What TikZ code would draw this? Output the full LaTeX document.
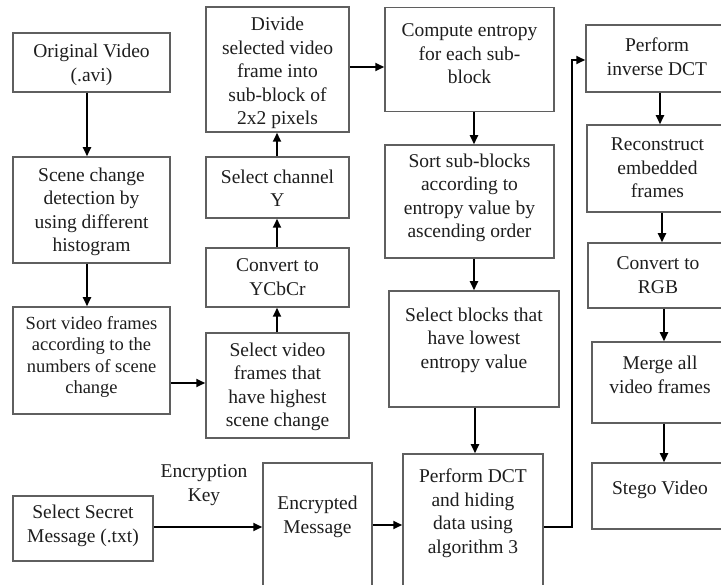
\documentclass[tikz,border=0pt]{standalone}
\usepackage{fontspec}
\setmainfont{Liberation Serif}
\usetikzlibrary{arrows.meta}
\definecolor{boxgray}{RGB}{95,95,95}
\definecolor{textgray}{RGB}{30,30,30}
\begin{document}
\begin{tikzpicture}[x=1pt,y=-1pt,
  box/.style={draw=boxgray, line width=1.5pt, rectangle, inner sep=0pt},
  txt/.style={align=center, font=\fontsize{19.5}{23.5}\selectfont, text=textgray, inner sep=0pt},
  smalltxt/.style={txt, font=\fontsize{18.5}{21.5}\selectfont},
  arr/.style={line width=1.8pt, black, -{Triangle[length=9pt,width=8pt]}}]
\useasboundingbox (0,0) rectangle (721,585);
\clip (0,0) rectangle (721,585);
\fill[white] (0,0) rectangle (721,585);

% boxes
\node[box, minimum width=157pt, minimum height=59pt] (orig) at (91.5,62.5) {};
\node[box, minimum width=157pt, minimum height=106pt] (scene) at (91.5,210) {};
\node[box, minimum width=157pt, minimum height=107pt] (sortvf) at (91.5,360.5) {};
\node[box, minimum width=143pt, minimum height=105pt] (selvf) at (277.5,385.5) {};
\node[box, minimum width=143pt, minimum height=59pt] (conv) at (277.5,277.5) {};
\node[box, minimum width=143pt, minimum height=61pt] (chan) at (277.5,187.5) {};
\node[box, minimum width=143pt, minimum height=125pt] (divide) at (277.5,69.5) {};
\node[box, minimum width=169pt, minimum height=104pt] (compute) at (469.5,59.5) {};
\node[box, minimum width=169pt, minimum height=113pt] (sortsb) at (469.5,201.5) {};
\node[box, minimum width=170pt, minimum height=116pt] (selblk) at (474,349) {};
\node[box, minimum width=140pt, minimum height=146pt] (dct) at (473,527) {};
\node[box, minimum width=109pt, minimum height=137pt] (enc) at (317.5,531.5) {};
\node[box, minimum width=140pt, minimum height=65pt] (secret) at (83,528.5) {};
\node[box, minimum width=142pt, minimum height=67pt] (inv) at (657,58.5) {};
\node[box, minimum width=141pt, minimum height=87pt] (recon) at (657.5,168.5) {};
\node[box, minimum width=140pt, minimum height=65pt] (rgb) at (658,275.5) {};
\node[box, minimum width=136pt, minimum height=81pt] (merge) at (660,382.5) {};
\node[box, minimum width=136pt, minimum height=66pt] (stego) at (660,496) {};

% texts
\node[txt] (t-orig) at (91.5,65) {Original Video\\(.avi)};
\node[txt] (t-scene) at (91.5,212) {Scene change\\detection by\\using different\\histogram};
\node[smalltxt] (t-sortvf) at (91.5,357) {Sort video frames\\according to the\\numbers of scene\\change};
\node[txt] (t-selvf) at (277.5,387) {Select video\\frames that\\have highest\\scene change};
\node[txt] (t-conv) at (277.5,277) {Convert to\\YCbCr};
\node[txt] (t-chan) at (277.5,188) {Select channel\\Y};
\node[txt] (t-divide) at (277.5,73) {Divide\\selected video\\frame into\\sub-block of\\2x2 pixels};
\node[txt] (t-compute) at (469.5,54) {Compute entropy\\for each sub-\\block};
\node[txt] (t-sortsb) at (469.5,198) {Sort sub-blocks\\according to\\entropy value by\\ascending order};
\node[txt] (t-selblk) at (474,340) {Select blocks that\\have lowest\\entropy value};
\node[txt] (t-dct) at (473,513) {Perform DCT\\and hiding\\data using\\algorithm 3};
\node[txt] (t-enc) at (317.5,517) {Encrypted\\Message};
\node[txt] (t-secret) at (83,526) {Select Secret\\Message (.txt)};
\node[txt] (t-key) at (204,485) {Encryption\\Key};
\node[txt] (t-inv) at (657,56.5) {Perform\\inverse DCT};
\node[txt] (t-recon) at (657.5,168) {Reconstruct\\embedded\\frames};
\node[txt] (t-rgb) at (658,275) {Convert to\\RGB};
\node[txt] (t-merge) at (660,375) {Merge all\\video frames};
\node[txt] (t-stego) at (660,490) {Stego Video};

% connectors
\draw[arr] (orig.south -| 87,0) -- (scene.north -| 87,0);
\draw[arr] (scene.south -| 87,0) -- (sortvf.north -| 87,0);
\draw[arr] (sortvf.east |- 0,383) -- (selvf.west |- 0,383);
\draw[arr] (selvf.north -| 277,0) -- (conv.south -| 277,0);
\draw[arr] (conv.north -| 277,0) -- (chan.south -| 277,0);
\draw[arr] (chan.north -| 277,0) -- (divide.south -| 277,0);
\draw[arr] (divide.east |- 0,67) -- (compute.west |- 0,67);
\draw[arr] (compute.south -| 474,0) -- (sortsb.north -| 474,0);
\draw[arr] (sortsb.south -| 474,0) -- (selblk.north -| 474,0);
\draw[arr] (selblk.south -| 475,0) -- (dct.north -| 475,0);
\draw[arr] (secret.east |- 0,527) -- (enc.west |- 0,527);
\draw[arr] (enc.east |- 0,525) -- (dct.west |- 0,525);
\draw[arr] (dct.east |- 0,527) -- (572,527) -- (572,60) -- (inv.west |- 0,60);
\draw[arr] (inv.south -| 660,0) -- (recon.north -| 660,0);
\draw[arr] (recon.south -| 662,0) -- (rgb.north -| 662,0);
\draw[arr] (rgb.south -| 664,0) -- (merge.north -| 664,0);
\draw[arr] (merge.south -| 664,0) -- (stego.north -| 664,0);
\end{tikzpicture}
\end{document}
